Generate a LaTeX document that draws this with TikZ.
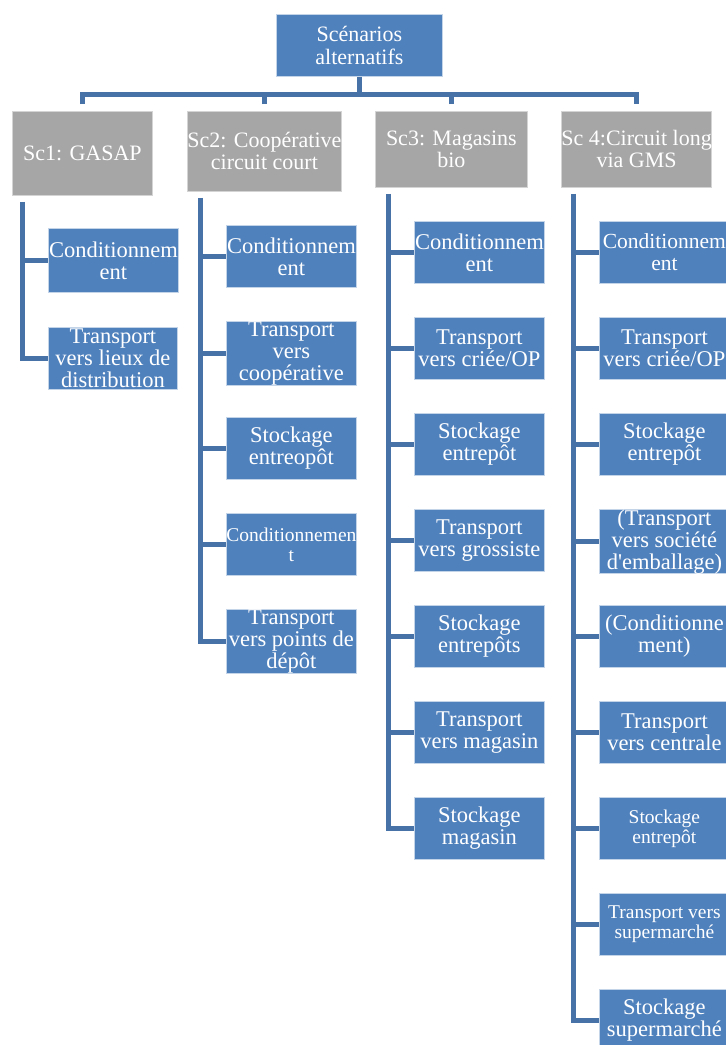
\documentclass[tikz,border=0pt]{standalone}
\usepackage{fontspec}
\setmainfont{Liberation Serif}
\usetikzlibrary{calc}
\definecolor{boxblue}{HTML}{4F81BD}
\definecolor{boxedge}{HTML}{C3D3E8}
\definecolor{linkblue}{HTML}{4672A8}
\definecolor{boxgray}{HTML}{A6A6A6}
\definecolor{grayedge}{HTML}{D4D4D4}
\begin{document}
\begin{tikzpicture}[x=1pt,y=-1pt,
  base/.style={anchor=north west, inner sep=0pt, align=center, text=white, line width=0.8pt},
  topbox/.style={base, fill=boxblue, draw=boxedge, font=\fontsize{22}{23}\selectfont},
  scbox/.style={base, fill=boxgray, draw=grayedge, minimum height=76pt, font=\fontsize{22}{22}\selectfont},
  stepbox/.style={base, fill=boxblue, draw=boxedge, minimum width=130pt, minimum height=62pt, font=\fontsize{22.5}{22}\selectfont},
  smalltext/.style={font=\fontsize{19.5}{20}\selectfont},
  conn/.style={draw=linkblue, line width=5pt}]
\clip (0,0) rectangle (726,1045);
\fill[white] (0,0) rectangle (726,1045);

% root
\node[topbox, minimum width=166pt, minimum height=62pt] (top) at (276,14) {Scénarios\\alternatifs};

% scenarios
\node[scbox, minimum width=140pt, minimum height=84pt] (s1) at (12,111) {Sc1: GASAP};
\node[scbox, minimum width=154pt, minimum height=80pt] (s2) at (187,111) {Sc2: Coopérative\\circuit court};
\node[scbox, minimum width=152pt] (s3) at (375,111) {Sc3: Magasins\\bio};
\node[scbox, minimum width=146pt] (s4) at (561,111) {Sc 4:Circuit long\\via GMS};

% Sc1 steps
\node[stepbox, minimum height=64pt] (c1a) at (48,228) {Conditionnem\\ent};
\node[stepbox, minimum width=129pt] (c1b) at (48,327) {Transport\\vers lieux de\\distribution};

% Sc2 steps
\node[stepbox] (c2a) at (226,225) {Conditionnem\\ent};
\node[stepbox] (c2b) at (226,321) {Transport\\vers\\coopérative};
\node[stepbox] (c2c) at (226,417) {Stockage\\entreopôt};
\node[stepbox, smalltext] (c2d) at (226,513) {Conditionnemen\\t};
\node[stepbox] (c2e) at (226,609) {Transport\\vers points de\\dépôt};

% Sc3 steps
\node[stepbox] (c3a) at (414,221) {Conditionnem\\ent};
\node[stepbox] (c3b) at (414,317) {Transport\\vers criée/OP};
\node[stepbox] (c3c) at (414,413) {Stockage\\entrepôt};
\node[stepbox] (c3d) at (414,509) {Transport\\vers grossiste};
\node[stepbox] (c3e) at (414,605) {Stockage\\entrepôts};
\node[stepbox] (c3f) at (414,701) {Transport\\vers magasin};
\node[stepbox] (c3g) at (414,797) {Stockage\\magasin};

% Sc4 steps
\node[stepbox, font=\fontsize{21.5}{22}\selectfont] (c4a) at (599,221) {Conditionnem\\ent};
\node[stepbox] (c4b) at (599,317) {Transport\\vers criée/OP};
\node[stepbox] (c4c) at (599,413) {Stockage\\entrepôt};
\node[stepbox] (c4d) at (599,509) {(Transport\\vers société\\d\textquotesingle emballage)};
\node[stepbox] (c4e) at (599,605) {(Conditionne\\ment)};
\node[stepbox] (c4f) at (599,701) {Transport\\vers centrale};
\node[stepbox, smalltext] (c4g) at (599,797) {Stockage\\entrepôt};
\node[stepbox, smalltext] (c4h) at (599,893) {Transport vers\\supermarché};
\node[stepbox] (c4i) at (599,989) {Stockage\\supermarché};

% root to scenarios
\coordinate (bar) at (360,94);
\draw[conn] (top.south) -- (top.south |- bar);
\draw[conn] ($(s1.north)+(0,-7)$) |- (bar) -| ($(s4.north)+(0,-7)$);
\draw[conn] ($(s2.north)+(0,-7)$) -- (s2.north |- bar);
\draw[conn] ($(s3.north)+(0,-7)$) -- (s3.north |- bar);

% spine of each scenario
\coordinate (k1) at ($(c1a.west)+(-26,0)$);
\coordinate (k2) at ($(c2a.west)+(-26,0)$);
\coordinate (k3) at ($(c3a.west)+(-26,0)$);
\coordinate (k4) at ($(c4a.west)+(-26,0)$);
\draw[conn] ($(s1.south -| k1)+(0,6)$) -- (k1 |- c1b.west) -- (c1b.west);
\draw[conn] ($(s2.south -| k2)+(0,6)$) -- (k2 |- c2e.west) -- (c2e.west);
\draw[conn] ($(s3.south -| k3)+(0,6)$) -- (k3 |- c3g.west) -- (c3g.west);
\draw[conn] ($(s4.south -| k4)+(0,6)$) -- (k4 |- c4i.west) -- (c4i.west);

% branches to the steps
\draw[conn] (k1) -- (c1a.west);
\foreach \n in {c2a,c2b,c2c,c2d} \draw[conn] (k2 |- \n.west) -- (\n.west);
\foreach \n in {c3a,c3b,c3c,c3d,c3e,c3f} \draw[conn] (k3 |- \n.west) -- (\n.west);
\foreach \n in {c4a,c4b,c4c,c4d,c4e,c4f,c4g,c4h} \draw[conn] (k4 |- \n.west) -- (\n.west);
\end{tikzpicture}
\end{document}
